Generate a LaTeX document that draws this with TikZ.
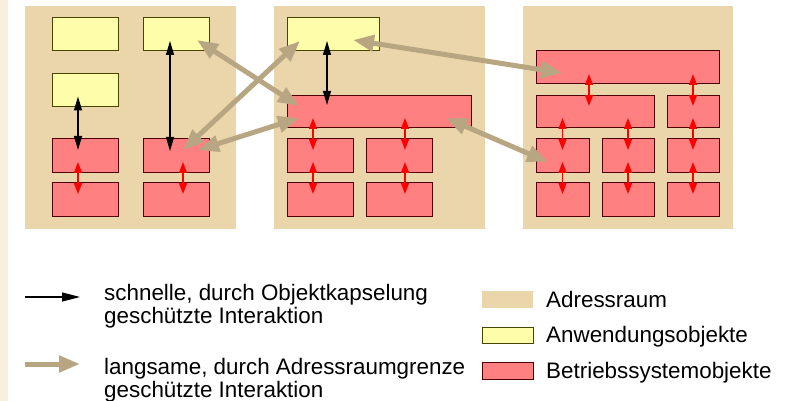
\documentclass[tikz,border=0pt]{standalone}
\usepackage{fontspec}
\setmainfont{Liberation Sans}
\usetikzlibrary{arrows.meta,calc}
\definecolor{strip}{RGB}{248,239,221}
\definecolor{panel}{RGB}{235,213,171}
\definecolor{appfill}{RGB}{253,253,170}
\definecolor{appborder}{RGB}{70,70,0}
\definecolor{osfill}{RGB}{255,128,128}
\definecolor{osborder}{RGB}{80,0,0}
\definecolor{slowc}{RGB}{184,166,130}
\tikzset{
  space/.style={fill=panel, draw=none, inner sep=0, outer sep=0},
  app/.style={draw=appborder, fill=appfill, line width=1pt, inner sep=0, outer sep=0, minimum height=33pt},
  os/.style={draw=osborder, fill=osfill, line width=1pt, inner sep=0, outer sep=0, minimum height=34pt},
  fast/.style={black, line width=1.1pt, {Triangle[length=14pt,width=8pt]}-{Triangle[length=14pt,width=8pt]}},
  osarr/.style={red, line width=1.3pt, {Triangle[length=11pt,width=8pt]}-{Triangle[length=11pt,width=8pt]}},
  slow/.style={slowc, line width=5pt, {Triangle[length=21pt,width=16pt]}-{Triangle[length=21pt,width=16pt]}},
  legtext/.style={font=\fontsize{22.4}{23.5}\selectfont, inner sep=0, anchor=west, align=left},
  legline/.style={font=\fontsize{22.4}{23.5}\selectfont, inner sep=0, anchor=base west},
}
\begin{document}
\begin{tikzpicture}[x=1pt,y=-1pt]
\useasboundingbox (0,0) rectangle (796,401);
\fill[white] (0,0) rectangle (796,401);
\fill[strip] (0,0) rectangle (8,401);
% address spaces
\node[space, minimum width=211pt, minimum height=223pt] (P1) at (130.5,117.5) {};
\node[space, minimum width=211pt, minimum height=223pt] (P2) at (379.5,117.5) {};
\node[space, minimum width=210pt, minimum height=223pt] (P3) at (628,117.5) {};
% panel 1
\node[app, minimum width=66pt] (A1) at (85,34.5) {};
\node[app, minimum width=66pt] (A2) at (176,34.5) {};
\node[app, minimum width=66pt] (A3) at (85,90) {};
\node[os, minimum width=66pt] (R1) at (85,156) {};
\node[os, minimum width=66pt] (R2) at (176,156) {};
\node[os, minimum width=66pt] (R3) at (85,200) {};
\node[os, minimum width=66pt] (R4) at (176,200) {};
% panel 2
\node[app, minimum width=92pt] (B1) at (333,34.5) {};
\node[os, minimum width=184pt, minimum height=32pt] (B2) at (379,112) {};
\node[os, minimum width=66pt] (B3) at (320,156) {};
\node[os, minimum width=66pt] (B4) at (399,156) {};
\node[os, minimum width=66pt] (B5) at (320,200) {};
\node[os, minimum width=66pt] (B6) at (399,200) {};
% panel 3
\node[os, minimum width=183pt, minimum height=33pt] (C1) at (627.5,67.5) {};
\node[os, minimum width=118pt, minimum height=32pt] (C2) at (595,112) {};
\node[os, minimum width=52pt, minimum height=32pt] (C3) at (693,112) {};
\node[os, minimum width=53pt] (C4) at (562.5,156) {};
\node[os, minimum width=52pt] (C5) at (628,156) {};
\node[os, minimum width=52pt] (C6) at (693,156) {};
\node[os, minimum width=53pt] (C7) at (562.5,200) {};
\node[os, minimum width=52pt] (C8) at (628,200) {};
\node[os, minimum width=52pt] (C9) at (693,200) {};
% fast (black) arrows
\draw[fast] ($(A3.south)+(-7,-10)$) -- ($(R1.north)+(-7,11)$);
\draw[fast] ($(A2.south)+(-6,-10)$) -- ($(R2.north)+(-6,12)$);
\draw[fast] ($(B1.south)+(-6,-10)$) -- ($(B2.north -| B1.south)+(-6,9)$);
% OS internal arrows
\draw[osarr] ($(R1.south)+(-7,-11)$) -- ($(R3.north)+(-7,11)$);
\draw[osarr] ($(R2.south)+(7,-11)$) -- ($(R4.north)+(7,11)$);
\draw[osarr] ($(B2.south -| B3.north)+(-7,-10)$) -- ($(B3.north)+(-7,11)$);
\draw[osarr] ($(B3.south)+(-7,-11)$) -- ($(B5.north)+(-7,11)$);
\draw[osarr] ($(B2.south -| B4.north)+(6,-10)$) -- ($(B4.north)+(6,11)$);
\draw[osarr] ($(B4.south)+(6,-11)$) -- ($(B6.north)+(6,11)$);
\draw[osarr] ($(C1.south -| C2.north)+(-6,-10)$) -- ($(C2.north)+(-6,10)$);
\draw[osarr] ($(C1.south -| C3.north)+(0,-10)$) -- ($(C3.north)+(0,10)$);
\draw[osarr] ($(C2.south -| C4.north)+(0,-10)$) -- ($(C4.north)+(0,11)$);
\draw[osarr] ($(C2.south -| C5.north)+(0,-10)$) -- ($(C5.north)+(0,11)$);
\draw[osarr] ($(C3.south -| C6.north)+(0,-10)$) -- ($(C6.north)+(0,11)$);
\draw[osarr] ($(C4.south)+(0,-11)$) -- ($(C7.north)+(0,11)$);
\draw[osarr] ($(C5.south)+(0,-11)$) -- ($(C8.north)+(0,11)$);
\draw[osarr] ($(C6.south)+(0,-11)$) -- ($(C9.north)+(0,11)$);
% slow (address-space crossing) arrows
\draw[slow] ($(R2.center)+(7,-6)$) -- ($(B1.center)+(-33,6.5)$);
\draw[slow] ($(A2.center)+(21,5.5)$) -- ($(B2.center)+(-80,-6)$);
\draw[slow] ($(R2.center)+(22,-6)$) -- ($(B2.center)+(-80,6)$);
\draw[slow] ($(B1.center)+(20,5.5)$) -- ($(C1.center)+(-65.5,5.5)$);
\draw[slow] ($(B2.center)+(67,6)$) -- ($(C4.center)+(-14.5,6)$);
% legend left
\coordinate (LFa) at (25,297);
\coordinate (LFb) at (80,297);
\draw[black, line width=1.1pt, -{Triangle[length=18pt,width=9pt]}] (LFa) -- (LFb);
\node[legtext] (LFt) at (104,306) {schnelle, durch Objektkapselung\\geschützte Interaktion};
\coordinate (LSa) at (25,364);
\coordinate (LSb) at (80,364);
\draw[slowc, line width=5pt, -{Triangle[length=21pt,width=16pt]}] (LSa) -- (LSb);
\node[legtext] (LSt) at (104,380) {langsame, durch Adressraumgrenze\\geschützte Interaktion};
% legend right
\node[space, minimum width=51pt, minimum height=17pt] (K1) at (507.5,299.5) {};
\node[app, minimum width=51pt, minimum height=16pt] (K2) at (507.5,335) {};
\node[os, minimum width=51pt, minimum height=17pt] (K3) at (507.5,370.5) {};
\node[legline] (K1t) at (546,307) {Adressraum};
\node[legline] (K2t) at (546,342.5) {Anwendungsobjekte};
\node[legline] (K3t) at (546,378) {Betriebssystemobjekte};
\end{tikzpicture}
\end{document}
